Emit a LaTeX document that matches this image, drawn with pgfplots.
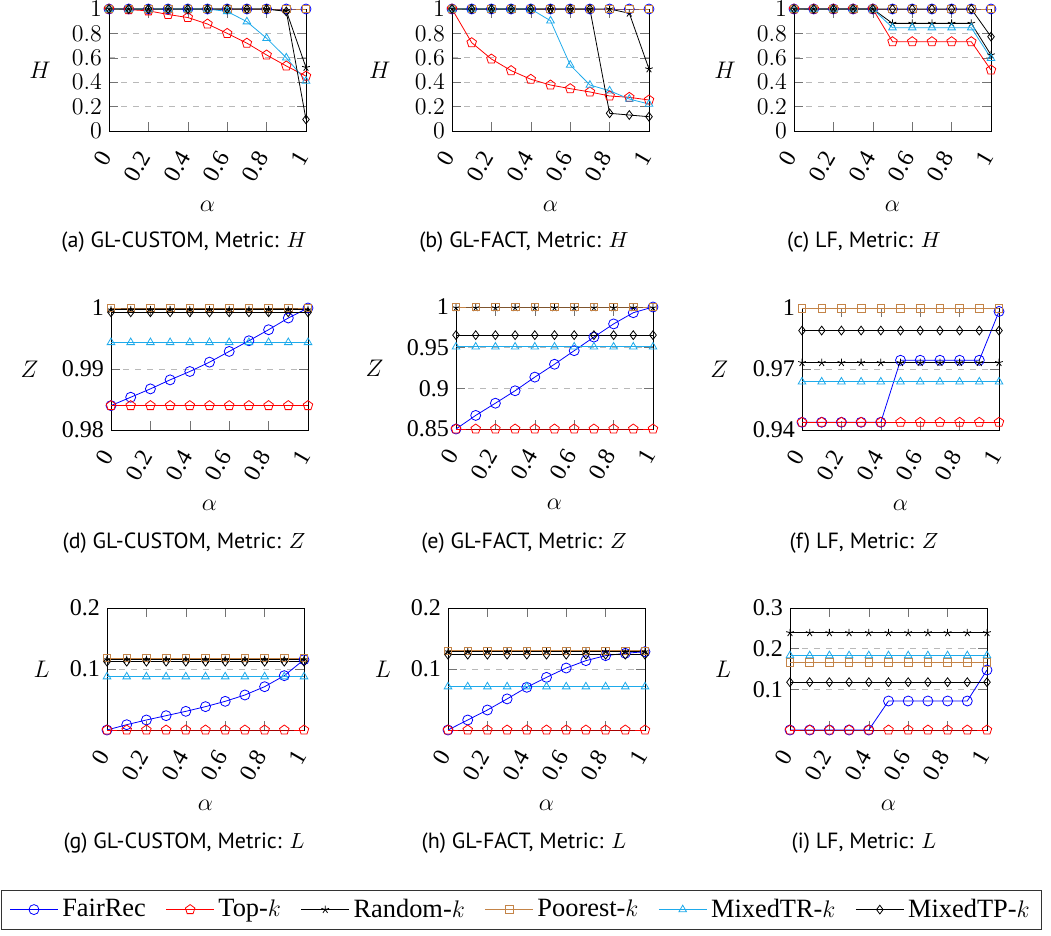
\documentclass[border=0pt]{standalone}
\usepackage{pgfplots}
\pgfplotsset{compat=1.18}
\usepackage{pgfplotstable}
\usepackage{fontspec}
\setmainfont{Liberation Serif}
\newfontfamily\capfont{PT Sans}
\definecolor{mixtr}{RGB}{30,170,235}
\definecolor{poor}{RGB}{196,132,72}

% columns: a = alpha, fr = FairRec, tk = Top-k, rk = Random-k, pk = Poorest-k, tr = MixedTR-k, tp = MixedTP-k
\pgfplotstableread{
a fr tk rk pk tr tp
0 1 1 1 1 1 1
0.1 1 0.995 1 1 1 1
0.2 1 0.985 1 1 1 1
0.3 1 0.955 1 1 1 1
0.4 1 0.93 1 1 1 1
0.5 1 0.877 1 1 1 1
0.6 1 0.80 1 1 0.98 1
0.7 1 0.72 1 1 0.896 1
0.8 1 0.623 1 1 0.76 1
0.9 1 0.533 0.985 1 0.60 0.98
1.0 1 0.45 0.52 1 0.41 0.095
}\tA
\pgfplotstableread{
a fr tk rk pk tr tp
0 1 1 1 1 1 1
0.1 1 0.724 1 1 1 1
0.2 1 0.59 1 1 1 1
0.3 1 0.495 1 1 1 1
0.4 1 0.424 1 1 1 1
0.5 1 0.377 1 1 0.904 1
0.6 1 0.347 1 1 0.541 1
0.7 1 0.32 1 1 0.377 1
0.8 1 0.287 1 1 0.33 0.145
0.9 1 0.276 0.965 1 0.262 0.131
1.0 1 0.254 0.508 1 0.221 0.117
}\tB
\pgfplotstableread{
a fr tk rk pk tr tp
0 1 1 1 1 1 1
0.1 1 1 1 1 1 1
0.2 1 1 1 1 1 1
0.3 1 1 1 1 1 1
0.4 1 1 1 1 1 1
0.5 1 0.732 0.882 1 0.847 1
0.6 1 0.732 0.882 1 0.847 1
0.7 1 0.732 0.882 1 0.847 1
0.8 1 0.732 0.882 1 0.847 1
0.9 1 0.732 0.882 1 0.847 1
1.0 1 0.50 0.623 1 0.596 0.773
}\tC
\pgfplotstableread{
a fr tk rk pk tr tp
0 0.9840 0.9840 0.9997 1 0.99436 0.9993
0.1 0.98537 0.9840 0.9997 1 0.99436 0.9993
0.2 0.98674 0.9840 0.9997 1 0.99436 0.9993
0.3 0.98822 0.9840 0.9997 1 0.99436 0.9993
0.4 0.98959 0.9840 0.9997 1 0.99436 0.9993
0.5 0.99112 0.9840 0.9997 1 0.99436 0.9993
0.6 0.99288 0.9840 0.9997 1 0.99436 0.9993
0.7 0.99463 0.9840 0.9997 1 0.99436 0.9993
0.8 0.99644 0.9840 0.9997 1 0.99436 0.9993
0.9 0.99836 0.9840 0.9997 1 0.99436 0.9993
1.0 1.0 0.9840 0.9997 1 0.99436 0.9993
}\tD
\pgfplotstableread{
a fr tk rk pk tr tp
0 0.85 0.85 0.999 1 0.951 0.9654
0.1 0.8667 0.85 0.999 1 0.951 0.9654
0.2 0.8817 0.85 0.999 1 0.951 0.9654
0.3 0.897 0.85 0.999 1 0.951 0.9654
0.4 0.9138 0.85 0.999 1 0.951 0.9654
0.5 0.9296 0.85 0.999 1 0.951 0.9654
0.6 0.9463 0.85 0.999 1 0.951 0.9654
0.7 0.963 0.85 0.999 1 0.951 0.9654
0.8 0.9792 0.85 0.999 1 0.951 0.9654
0.9 0.993 0.85 0.999 1 0.951 0.9654
1.0 1.0 0.85 0.999 1 0.951 0.9654
}\tE
\pgfplotstableread{
a fr tk rk pk tr tp
0 0.9438 0.9438 0.9731 0.9997 0.9637 0.9889
0.1 0.9438 0.9438 0.9731 0.9997 0.9637 0.9889
0.2 0.9438 0.9438 0.9731 0.9997 0.9637 0.9889
0.3 0.9438 0.9438 0.9731 0.9997 0.9637 0.9889
0.4 0.9438 0.9438 0.9731 0.9997 0.9637 0.9889
0.5 0.9743 0.9438 0.9731 0.9997 0.9637 0.9889
0.6 0.9743 0.9438 0.9731 0.9997 0.9637 0.9889
0.7 0.9743 0.9438 0.9731 0.9997 0.9637 0.9889
0.8 0.9743 0.9438 0.9731 0.9997 0.9637 0.9889
0.9 0.9743 0.9438 0.9731 0.9997 0.9637 0.9889
1.0 0.9983 0.9438 0.9731 0.9997 0.9637 0.9889
}\tF
\pgfplotstableread{
a fr tk rk pk tr tp
0 0 0 0.1153 0.118 0.0874 0.112
0.1 0.0087 0 0.1153 0.118 0.0874 0.112
0.2 0.0164 0 0.1153 0.118 0.0874 0.112
0.3 0.0235 0 0.1153 0.118 0.0874 0.112
0.4 0.0306 0 0.1153 0.118 0.0874 0.112
0.5 0.0383 0 0.1153 0.118 0.0874 0.112
0.6 0.047 0 0.1153 0.118 0.0874 0.112
0.7 0.0574 0 0.1153 0.118 0.0874 0.112
0.8 0.071 0 0.1153 0.118 0.0874 0.112
0.9 0.0891 0 0.1153 0.118 0.0874 0.112
1.0 0.1153 0 0.1153 0.118 0.0874 0.112
}\tG
\pgfplotstableread{
a fr tk rk pk tr tp
0 0 0 0.1284 0.130 0.071 0.1235
0.1 0.0164 0 0.1284 0.130 0.071 0.1235
0.2 0.0328 0 0.1284 0.130 0.071 0.1235
0.3 0.051 0 0.1284 0.130 0.071 0.1235
0.4 0.07 0 0.1284 0.130 0.071 0.1235
0.5 0.0863 0 0.1284 0.130 0.071 0.1235
0.6 0.1016 0 0.1284 0.130 0.071 0.1235
0.7 0.1137 0 0.1284 0.130 0.071 0.1235
0.8 0.1219 0 0.1284 0.130 0.071 0.1235
0.9 0.1257 0 0.1284 0.130 0.071 0.1235
1.0 0.1284 0 0.1284 0.130 0.071 0.1235
}\tH
\pgfplotstableread{
a fr tk rk pk tr tp
0 0 0 0.239 0.166 0.183 0.1176
0.1 0 0 0.239 0.166 0.183 0.1176
0.2 0 0 0.239 0.166 0.183 0.1176
0.3 0 0 0.239 0.166 0.183 0.1176
0.4 0 0 0.239 0.166 0.183 0.1176
0.5 0.0713 0 0.239 0.166 0.183 0.1176
0.6 0.0713 0 0.239 0.166 0.183 0.1176
0.7 0.0713 0 0.239 0.166 0.183 0.1176
0.8 0.0713 0 0.239 0.166 0.183 0.1176
0.9 0.0713 0 0.239 0.166 0.183 0.1176
1.0 0.1476 0 0.239 0.166 0.183 0.1176
}\tI

\pgfplotsset{
  panel/.style={scale only axis, width=98.5pt, height=61pt, anchor=south west,
    xmin=0, xmax=1, xtick={0,0.2,0.4,0.6,0.8,1}, xticklabels={0,0.2,0.4,0.6,0.8,1},
    tick label style={font=\fontsize{12}{14}\selectfont},
    xticklabel style={yshift=-8pt, rotate=60, anchor=east},
    label style={font=\fontsize{13}{15}\selectfont},
    ymajorgrids, grid style={dashed, gray!55},
    xlabel={$\alpha$}, xlabel style={at={(axis description cs:0.5,-0.62)}, anchor=center},
    clip=false, major tick style={black!55},
    yticklabel style={/pgf/number format/fixed}},
  yl/.style={ylabel style={at={(axis description cs:#1,0.5)}, rotate=-90, anchor=center}},
  fr/.style={blue, mark=o, mark size=2.5pt},
  tk/.style={red, mark=pentagon, mark size=2.5pt},
  rk/.style={black, mark=star, mark size=2pt},
  pk/.style={poor, mark=square, mark size=1.9pt},
  tr/.style={mixtr, mark=triangle, mark size=2.2pt},
  tp/.style={black, mark=diamond, mark size=2.2pt},
}
\newcommand\allplots[1]{%
  \addplot[fr] table[x=a,y=fr]{#1};
  \addplot[tk] table[x=a,y=tk]{#1};
  \addplot[rk] table[x=a,y=rk]{#1};
  \addplot[pk] table[x=a,y=pk]{#1};
  \addplot[tr] table[x=a,y=tr]{#1};
  \addplot[tp] table[x=a,y=tp]{#1};
}
\newcommand\capt[1]{{\capfont\fontsize{11}{13}\selectfont #1}}

\begin{document}
\begin{tikzpicture}
\useasboundingbox (0,0) rectangle (525.5pt,-468pt);
% row 1
\begin{axis}[panel, at={(54.5pt,-65.5pt)}, ymin=0, ymax=1, ytick={0,0.2,0.4,0.6,0.8,1}, ylabel={$H$}, yl=-0.35]
\allplots{\tA}
\end{axis}
\begin{axis}[panel, at={(226pt,-65.5pt)}, ymin=0, ymax=1, ytick={0,0.2,0.4,0.6,0.8,1}, ylabel={$H$}, yl=-0.367]
\allplots{\tB}
\end{axis}
\begin{axis}[panel, at={(397pt,-65.5pt)}, ymin=0, ymax=1, ytick={0,0.2,0.4,0.6,0.8,1}, ylabel={$H$}, yl=-0.35]
\allplots{\tC}
\end{axis}
% row 2
\begin{axis}[panel, at={(55.5pt,-215pt)}, ymin=0.98, ymax=1, ytick={0.98,0.99,1}, yticklabels={0.98,0.99,1}, ylabel={$Z$}, yl=-0.413]
\allplots{\tD}
\end{axis}
\begin{axis}[panel, at={(228pt,-214.5pt)}, ymin=0.85, ymax=1, ytick={0.85,0.9,0.95,1}, yticklabels={0.85,0.9,0.95,1}, ylabel={$Z$}, yl=-0.413]
\allplots{\tE}
\end{axis}
\begin{axis}[panel, at={(401pt,-215pt)}, ymin=0.94, ymax=1, ytick={0.94,0.97,1}, yticklabels={0.94,0.97,1}, ylabel={$Z$}, yl=-0.42]
\allplots{\tF}
\end{axis}
% row 3
\begin{axis}[panel, at={(53.5pt,-365pt)}, ymin=0, ymax=0.2, ytick={0.1,0.2}, yticklabels={0.1,0.2}, ylabel={$L$}, yl=-0.332]
\allplots{\tG}
\end{axis}
\begin{axis}[panel, at={(224pt,-365pt)}, ymin=0, ymax=0.2, ytick={0.1,0.2}, yticklabels={0.1,0.2}, ylabel={$L$}, yl=-0.33]
\allplots{\tH}
\end{axis}
\begin{axis}[panel, at={(395pt,-365pt)}, ymin=0, ymax=0.3, ytick={0.1,0.2,0.3}, yticklabels={0.1,0.2,0.3}, ylabel={$L$}, yl=-0.34,
  legend columns=6,
  legend style={at={(axis description cs:-1.362,-1.472)}, anchor=center, draw=black!80,
    font=\fontsize{13.2}{15}\selectfont, inner xsep=4pt, inner ysep=2.5pt,
    /tikz/every even column/.append style={column sep=8pt}},
  legend image code/.code={\draw[mark repeat=2,mark phase=2] plot coordinates {(0cm,0cm) (0.42cm,0cm) (0.84cm,0cm)};}]
\allplots{\tI}
\legend{FairRec, Top-$k$, Random-$k$, Poorest-$k$, MixedTR-$k$, MixedTP-$k$}
\end{axis}
% sub-captions
\node at (92pt,-121pt) {\capt{(a) GL-CUSTOM, Metric: $H$}};
\node at (262pt,-121pt) {\capt{(b) GL-FACT, Metric: $H$}};
\node at (432pt,-121pt) {\capt{(c) LF, Metric: $H$}};
\node at (92pt,-271.5pt) {\capt{(d) GL-CUSTOM, Metric: $Z$}};
\node at (262pt,-271.5pt) {\capt{(e) GL-FACT, Metric: $Z$}};
\node at (432pt,-271.5pt) {\capt{(f) LF, Metric: $Z$}};
\node at (92pt,-421.5pt) {\capt{(g) GL-CUSTOM, Metric: $L$}};
\node at (262pt,-421.5pt) {\capt{(h) GL-FACT, Metric: $L$}};
\node at (432pt,-421.5pt) {\capt{(i) LF, Metric: $L$}};
\end{tikzpicture}
\end{document}
